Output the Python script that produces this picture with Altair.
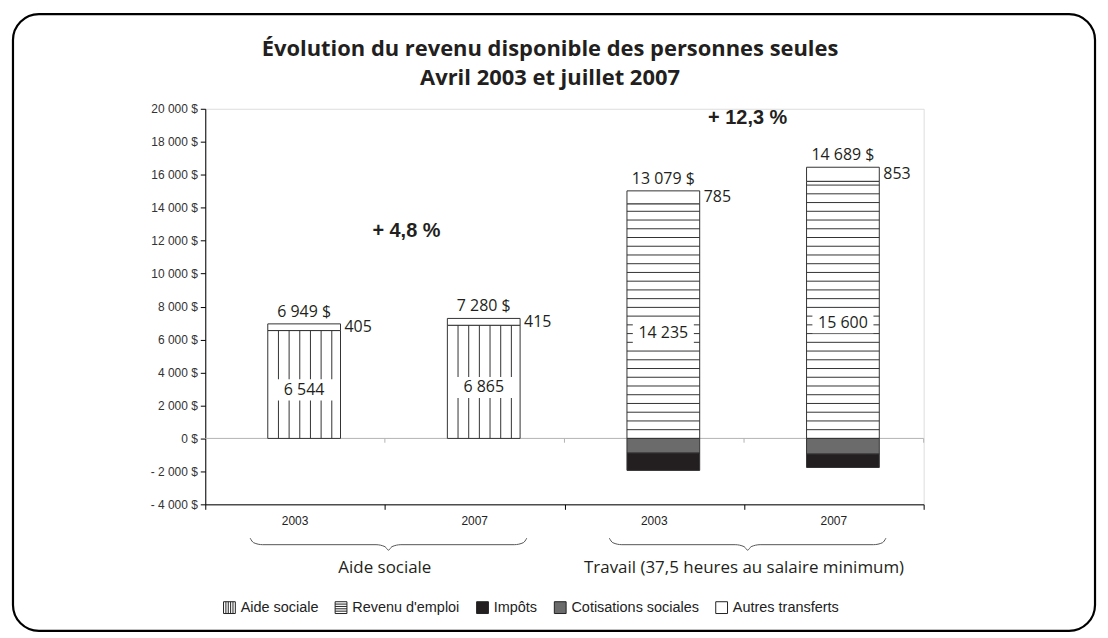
import altair as alt
import pandas as pd

# ---------------- data ----------------
years = ["2003", "2007", "2003", "2007"]
group_names = ["Aide sociale", "Travail (37,5 heures au salaire minimum)"]
aide_sociale = [6544, 6865, 0, 0]
revenu_emploi = [0, 0, 14235, 15600]
autres_transferts = [405, 415, 785, 853]
cotisations = [0, 0, -890, -950]
impots = [0, 0, -1051, -814]
revenu_disponible = [6949, 7280, 13079, 14689]
variations = ["+ 4,8 %", "+ 12,3 %"]
series = ["Aide sociale", "Revenu d'emploi", "Impôts", "Cotisations sociales", "Autres transferts"]
title_lines = ["Évolution du revenu disponible des personnes seules", "Avril 2003 et juillet 2007"]
y_ticks = list(range(-4000, 20001, 2000))

# ---------------- layout ----------------
W, H = 721, 397
YMIN, YMAX = -4000, 20000
BAR_L, BAR_R = 0.348, 0.753
FILL = {"Aide sociale": "#ffffff", "Revenu d'emploi": "#ffffff", "Autres transferts": "#ffffff",
        "Cotisations sociales": "#6b6b6b", "Impôts": "#231f20"}
INK = "#231f20"
LAB_FONT = "Open Sans"


def px_to_val(py):
    return YMAX - py * (YMAX - YMIN) / H


def fmt(v):
    return f"{v:,}".replace(",", " ")


seg, vhatch, hhatch, boxes, inner, tops, sides, yrs = [], [], [], [], [], [], [], []
for i in range(4):
    xl, xr = i + BAR_L, i + BAR_R
    xc = (xl + xr) / 2
    main_val = aide_sociale[i] + revenu_emploi[i]
    if aide_sociale[i]:
        seg.append(dict(serie="Aide sociale", xl=xl, xr=xr, y0=0, y1=aide_sociale[i]))
        for k in range(1, 7):
            vhatch.append(dict(x=xl + k * 0.0594, y0=0, y1=aide_sociale[i]))
    if revenu_emploi[i]:
        seg.append(dict(serie="Revenu d'emploi", xl=xl, xr=xr, y0=0, y1=revenu_emploi[i]))
        k = 1
        while k * 530 < revenu_emploi[i] - 150:
            hhatch.append(dict(xl=xl, xr=xr, y=k * 530))
            k += 1
    top = main_val + autres_transferts[i]
    seg.append(dict(serie="Autres transferts", xl=xl, xr=xr, y0=main_val, y1=top))
    if cotisations[i]:
        seg.append(dict(serie="Cotisations sociales", xl=xl, xr=xr, y0=0, y1=cotisations[i]))
        seg.append(dict(serie="Impôts", xl=xl, xr=xr, y0=cotisations[i], y1=cotisations[i] + impots[i]))
    lab_y = main_val * 0.45
    boxes.append(dict(xl=xc - 0.17, xr=xc + 0.17, y0=lab_y - 640, y1=lab_y + 640))
    inner.append(dict(x=xc, y=lab_y, t=fmt(main_val)))
    tops.append(dict(x=xc, y=top, t=fmt(revenu_disponible[i]) + " $"))
    sides.append(dict(x=xr, y=main_val + autres_transferts[i] / 2, t=fmt(autres_transferts[i])))
    yrs.append(dict(x=i + 0.5, t=years[i]))

seg_df = pd.DataFrame(seg)
seg_df["fill"] = seg_df["serie"].map(FILL)

# braces under each group (pixel offsets below the plot converted to y units)
brace_rows = []
shape = [(-1.0, 0), (-0.975, 4.5), (-0.91, 6.5), (-0.09, 6.5), (-0.025, 8.5), (0.0, 12),
         (0.025, 8.5), (0.09, 6.5), (0.91, 6.5), (0.975, 4.5), (1.0, 0)]
for g, name in enumerate(group_names):
    c = 2 * g + 1.02
    for j, (fx, dy) in enumerate(shape):
        brace_rows.append(dict(g=name, o=j, x=c + fx * 0.77, y=px_to_val(H + 34 + dy)))
brace_df = pd.DataFrame(brace_rows)

grp_df = pd.DataFrame(dict(x=[1.0, 3.0], t=group_names))
pct_df = pd.DataFrame(dict(x=[1.12, 3.02], y=[12600, 19450], t=variations))
zero_ticks = pd.DataFrame(dict(x=[1, 2, 3, 4]))
leg_df = pd.DataFrame(dict(serie=series))

xs = alt.Scale(domain=[0, 4], nice=False, zero=False)
ys = alt.Scale(domain=[YMIN, YMAX], nice=False, zero=False)

x_axis = alt.Axis(values=[0, 1, 2, 3, 4], labels=False, title=None, grid=False,
                  domainColor="#000", tickColor="#000", tickSize=5, domainWidth=1)
y_axis = alt.Axis(values=y_ticks, title=None, grid=False, domainColor="#000",
                  tickColor="#000", tickSize=5, labelPadding=3,
                  labelFont="Liberation Sans", labelFontSize=12, labelColor="#333",
                  labelOverlap=False,
                  labelExpr="datum.value == 0 ? '0 $' : (datum.value < 0 ? '- ' : '') + format(abs(datum.value)/1000, 'd') + ' 000 $'")

SQ = "M-1,-1H1V1H-1Z"
shape_paths = [
    SQ + " M-0.6,-1V1 M-0.2,-1V1 M0.2,-1V1 M0.6,-1V1",
    SQ + " M-1,-0.6H1 M-1,-0.2H1 M-1,0.2H1 M-1,0.6H1",
    SQ, SQ, SQ,
]
leg_fill = [FILL[s] for s in series]

zero_line = alt.Chart(pd.DataFrame(dict(a=[0]))).mark_rule(color="#b3b3b3", strokeWidth=1).encode(
    x=alt.datum(0, scale=xs, axis=x_axis), x2=alt.datum(4),
    y=alt.datum(0, scale=ys, axis=y_axis))
zero_tick = alt.Chart(zero_ticks).mark_rule(color="#b3b3b3", strokeWidth=1).encode(
    x=alt.X("x:Q", axis=x_axis), y=alt.datum(0, axis=y_axis), y2=alt.datum(-260))

bars = alt.Chart(seg_df).mark_rect(stroke="#333333", strokeWidth=1).encode(
    x=alt.X("xl:Q", axis=x_axis), x2="xr:Q",
    y=alt.Y("y0:Q", axis=y_axis), y2="y1:Q",
    fill=alt.Fill("fill:N", scale=None),
)

vh = alt.Chart(pd.DataFrame(vhatch)).mark_rule(color="#333333", strokeWidth=1).encode(
    x=alt.X("x:Q", axis=x_axis), y=alt.Y("y0:Q", axis=y_axis), y2="y1:Q")
hh = alt.Chart(pd.DataFrame(hhatch)).mark_rule(color="#333333", strokeWidth=1).encode(
    x=alt.X("xl:Q", axis=x_axis), x2="xr:Q", y=alt.Y("y:Q", axis=y_axis))
box = alt.Chart(pd.DataFrame(boxes)).mark_rect(fill="#ffffff").encode(
    x=alt.X("xl:Q", axis=x_axis), x2="xr:Q", y=alt.Y("y0:Q", axis=y_axis), y2="y1:Q")

inner_t = alt.Chart(pd.DataFrame(inner)).mark_text(font=LAB_FONT, fontSize=16, color=INK, baseline="middle").encode(
    x=alt.X("x:Q", axis=x_axis), y=alt.Y("y:Q", axis=y_axis), text="t:N")
top_t = alt.Chart(pd.DataFrame(tops)).mark_text(font=LAB_FONT, fontSize=16, color=INK, baseline="bottom", dy=-4).encode(
    x=alt.X("x:Q", axis=x_axis), y=alt.Y("y:Q", axis=y_axis), text="t:N")
side_t = alt.Chart(pd.DataFrame(sides)).mark_text(font=LAB_FONT, fontSize=16, color=INK, baseline="middle", align="left", dx=4).encode(
    x=alt.X("x:Q", axis=x_axis), y=alt.Y("y:Q", axis=y_axis), text="t:N")
pct_t = alt.Chart(pct_df).mark_text(font="Liberation Sans", fontSize=20, fontWeight="bold", color=INK, baseline="middle").encode(
    x=alt.X("x:Q", axis=x_axis), y=alt.Y("y:Q", axis=y_axis), text="t:N")
year_t = alt.Chart(pd.DataFrame(yrs)).mark_text(font="Liberation Sans", fontSize=12, color="#222", baseline="middle").encode(
    x=alt.X("x:Q", axis=x_axis), y=alt.value(H + 17), text="t:N")
braces = alt.Chart(brace_df).mark_line(color="#555555", strokeWidth=1, interpolate="monotone").encode(
    x=alt.X("x:Q", axis=x_axis), y=alt.Y("y:Q", axis=y_axis), detail="g:N", order="o:Q")
grp_t = alt.Chart(grp_df).mark_text(font=LAB_FONT, fontSize=17, color=INK, baseline="middle").encode(
    x=alt.X("x:Q", axis=x_axis), y=alt.value(H + 64), text="t:N")

title1 = alt.Chart(pd.DataFrame(dict(a=[0]))).mark_text(
    font="Open Sans", fontSize=22, fontWeight="bold", color=INK, baseline="middle").encode(
    x=alt.value(346), y=alt.value(-60), text=alt.value(title_lines[0]))
title2 = alt.Chart(pd.DataFrame(dict(a=[0]))).mark_text(
    font="Open Sans", fontSize=22, fontWeight="bold", color=INK, baseline="middle").encode(
    x=alt.value(346), y=alt.value(-31), text=alt.value(title_lines[1]))

leg_common = dict(orient="none", legendX=17, legendY=493, direction="horizontal", columns=5,
                  title=None, labelFont="Liberation Sans", labelFontSize=14.5, labelColor="#222",
                  symbolSize=140, symbolStrokeWidth=1, symbolOpacity=1,
                  columnPadding=14, labelOffset=4)
legend_pts = alt.Chart(leg_df).mark_point(opacity=0).encode(
    x=alt.datum(0.5, axis=x_axis), y=alt.datum(0, axis=y_axis),
    fill=alt.Fill("serie:N", scale=alt.Scale(domain=series, range=leg_fill),
                  legend=alt.Legend(**leg_common)),
    stroke=alt.Stroke("serie:N", scale=alt.Scale(domain=series, range=["#222222"] * 5),
                      legend=alt.Legend(**leg_common)),
    shape=alt.Shape("serie:N", scale=alt.Scale(domain=series, range=shape_paths),
                    legend=alt.Legend(**leg_common)),
)

border = alt.Chart(pd.DataFrame(dict(a=[0]))).mark_rect(
    fillOpacity=0, stroke="#000", strokeWidth=2.2, cornerRadius=26).encode(
    x=alt.value(-193), x2=alt.value(893), y=alt.value(-95), y2=alt.value(524))

chart = alt.layer(
    zero_line, zero_tick, bars, vh, hh, box, inner_t, top_t, side_t, pct_t,
    year_t, braces, grp_t, title1, title2, legend_pts, border
).properties(
    width=W, height=H, padding=3,
).configure_view(stroke="transparent").configure(background="#ffffff")

chart.save("out.html", embed_options={"renderer": "svg", "actions": False})
